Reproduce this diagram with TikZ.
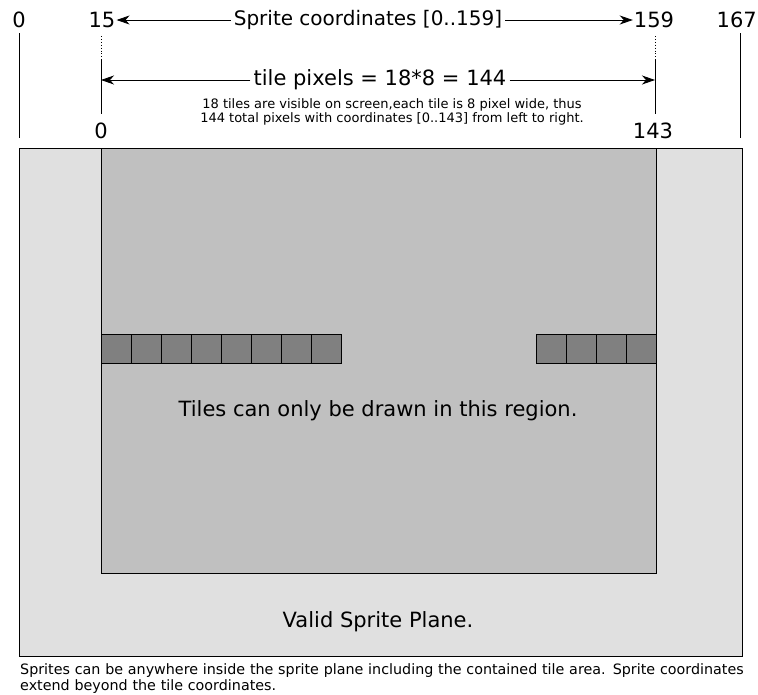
\documentclass[tikz,border=0pt]{standalone}
\usepackage{fontspec}
\setmainfont{DejaVu Sans}
\usetikzlibrary{arrows.meta, positioning}

\definecolor{planegray}{HTML}{E0E0E0}
\definecolor{tilegray}{HTML}{C0C0C0}
\definecolor{blockgray}{HTML}{808080}

\begin{document}
\begin{tikzpicture}[
    x=1pt, y=-1pt,
    numlabel/.style={
        font=\fontsize{21}{24}\selectfont,
        inner sep=1pt
    },
    biglabel/.style={
        font=\fontsize{21}{24}\selectfont,
        inner sep=3pt
    },
    smalltext/.style={
        font=\fontsize{13}{14}\selectfont,
        align=center
    },
    captiontext/.style={
        font=\fontsize{14.3}{16}\selectfont,
        align=left,
        text width=740pt,
        inner sep=0pt
    },
    arrow/.style={
        -{Stealth[length=13pt,width=9pt,inset=4pt]},
        line width=0.8pt
    },
    tick/.style={
        line width=0.9pt
    },
    tickdot/.style={
        line width=0.9pt,
        dotted
    },
    tileblock/.style={
        draw,
        fill=blockgray,
        line width=0.9pt
    }
]
\useasboundingbox (0,0) rectangle (758,694);

% planes
\draw[fill=planegray, line width=0.9pt] (19,148) rectangle (742,656);
\draw[fill=tilegray, line width=0.9pt] (101,148) rectangle (656,573);

% tile rows
\foreach \i in {0,...,7}
    \draw[tileblock] (101+30*\i,334) rectangle (131+30*\i,363);
\foreach \i in {0,...,3}
    \draw[tileblock] (536+30*\i,334) rectangle (566+30*\i,363);

% top coordinates
\node[numlabel] (s0) at (19,20) {0};
\node[numlabel] (s15) at (102,20) {15};
\node[numlabel] (s159) at (654,20) {159};
\node[numlabel, anchor=east] (s167) at (758,20) {167};
\node[biglabel, font=\fontsize{20}{24}\selectfont] (spritecoords) at (368,20) {Sprite coordinates [0..159]};

\draw[arrow] (spritecoords.west) -- (s15.east);
\draw[arrow] (spritecoords.east) -- (s159.west);

% tick lines
\coordinate (left top) at (19,33);
\coordinate (left bottom) at (19,138);
\coordinate (right top) at (740,33);
\coordinate (right bottom) at (740,138);
\coordinate (dot15) at (101,36);
\coordinate (mid15) at (101,59);
\coordinate (end15) at (101,114);
\coordinate (dot159) at (655,36);
\coordinate (mid159) at (655,59);
\coordinate (end159) at (655,114);

\draw[tick] (left top) -- (left bottom);
\draw[tick] (right top) -- (right bottom);
\draw[tickdot] (dot15) -- (mid15);
\draw[tick] (mid15) -- (end15);
\draw[tickdot] (dot159) -- (mid159);
\draw[tick] (mid159) -- (end159);

% tile pixel span
\node[biglabel] (tilepixels) at (380,80) {tile pixels = 18*8 = 144};
\coordinate (tile left) at (101,80);
\coordinate (tile right) at (655,80);
\draw[arrow] (tilepixels.west) -- (tile left);
\draw[arrow] (tilepixels.east) -- (tile right);

\node[smalltext] (tilenote) at (392,112)
{18 tiles are visible on screen,each tile is 8 pixel wide, thus\\
144 total pixels with coordinates [0..143] from left to right.};

\node[numlabel] (t0) at (101,131) {0};
\node[numlabel] (t143) at (653,131) {143};

% region labels
\node[biglabel] (tileregion) at (378,411) {Tiles can only be drawn in this region.};
\node[biglabel] (spriteplane) at (378,622) {Valid Sprite Plane.};

\node[captiontext, anchor=north west] (caption) at (20,663)
{Sprites can be anywhere inside the sprite plane including the contained tile area. Sprite coordinates\\
extend beyond the tile coordinates.};

\end{tikzpicture}
\end{document}
